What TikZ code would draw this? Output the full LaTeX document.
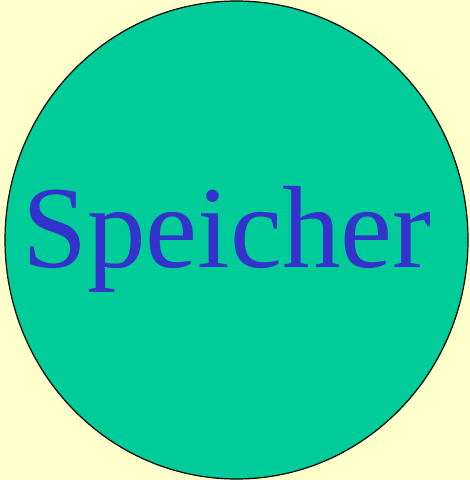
\documentclass[tikz,border=0pt]{standalone}
\usepackage{fontspec}
\setmainfont{Liberation Serif}
\definecolor{bgyellow}{RGB}{255,255,204}
\definecolor{ovalgreen}{RGB}{0,204,153}
\definecolor{textblue}{RGB}{51,51,204}
\tikzset{
  store/.style={draw=black, line width=1.2pt, fill=ovalgreen},
  label/.style={text=textblue, font=\fontsize{117}{127}\selectfont, inner sep=0pt}
}
\begin{document}
\begin{tikzpicture}[x=1pt,y=1pt]
\fill[bgyellow] (0,0) rectangle (470,480);
\useasboundingbox (0,0) rectangle (470,480);
\draw[store] (236.5,240) ellipse [x radius=231.5, y radius=239];
\node[label, anchor=base] (speicher) at (227,212) {Speicher};
\end{tikzpicture}
\end{document}
